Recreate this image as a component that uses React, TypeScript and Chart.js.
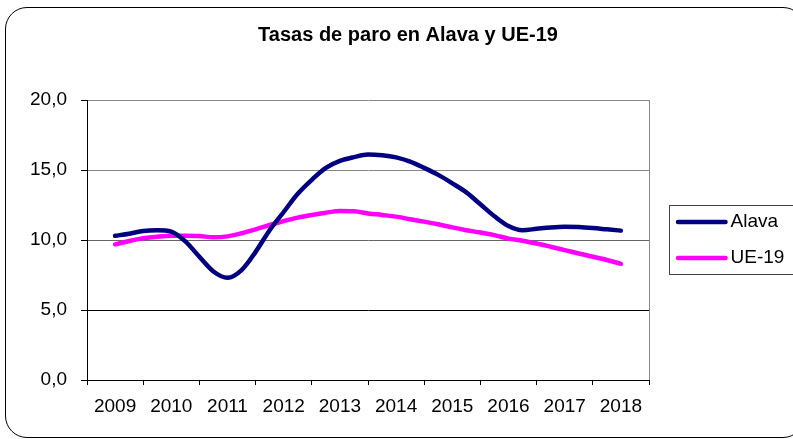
import React, { useEffect, useRef } from "react";
import { Chart, registerables } from "chart.js";

Chart.register(...registerables);

// ---- data -------------------------------------------------------------
const years = ["2009", "2010", "2011", "2012", "2013", "2014", "2015", "2016", "2017", "2018"];

// quarterly observations, from mid-2009 to mid-2018
const alava = [
  10.3, 10.45, 10.65, 10.7, 10.6, 9.9, 8.8, 7.75, 7.3, 7.85,
  9.15, 10.7, 12.0, 13.3, 14.3, 15.15, 15.65, 15.92, 16.1, 16.05,
  15.9, 15.6, 15.15, 14.65, 14.05, 13.4, 12.55, 11.7, 11.0, 10.7,
  10.8, 10.9, 10.95, 10.92, 10.85, 10.76, 10.67,
];

const ue19 = [
  9.69, 9.93, 10.12, 10.24, 10.31, 10.31, 10.29, 10.19, 10.26, 10.48,
  10.76, 11.07, 11.35, 11.6, 11.79, 11.95, 12.07, 12.05, 11.9, 11.79,
  11.67, 11.48, 11.31, 11.12, 10.9, 10.7, 10.53, 10.35, 10.1, 9.95,
  9.75, 9.52, 9.28, 9.04, 8.8, 8.57, 8.3,
];

const seriesNames = ["Alava", "UE-19"];
const seriesColors = ["#000080", "#FF00FF"];
const yTicks = [0, 5, 10, 15, 20];
const titleText = "Tasas de paro en Alava y UE-19";

const FONT = "'Liberation Sans', Arial, Helvetica, sans-serif";

const quarterPoints = (vals: number[]) =>
  vals.map((y, k) => ({ x: 0.5 + k / 4, y }));

// legend with a frame, drawn to the right of the plot area
const boxedLegend = {
  id: "boxedLegend",
  afterDraw(chart: any) {
    const { ctx, chartArea } = chart;
    const cy = (chartArea.top + chartArea.bottom) / 2;
    const left = Math.round(chartArea.right + 20) + 0.5;
    const top = Math.round(cy - 35) + 0.5;
    ctx.save();
    ctx.strokeStyle = "#444";
    ctx.lineWidth = 1;
    ctx.strokeRect(left, top, 200, 69);
    ctx.font = `19px ${FONT}`;
    ctx.textBaseline = "middle";
    ctx.textAlign = "left";
    chart.data.datasets.forEach((ds: any, i: number) => {
      const y = cy - 18 + i * 36;
      ctx.strokeStyle = ds.borderColor;
      ctx.lineWidth = ds.borderWidth;
      ctx.lineCap = "round";
      ctx.beginPath();
      ctx.moveTo(left + 8.5, y);
      ctx.lineTo(left + 56, y);
      ctx.stroke();
      ctx.fillStyle = "#000";
      ctx.fillText(ds.label, left + 61, y);
    });
    ctx.restore();
  },
};

export default function App() {
  const canvasRef = useRef<HTMLCanvasElement | null>(null);

  useEffect(() => {
    if (!canvasRef.current) return;
    const chart = new Chart(canvasRef.current, {
      type: "line",
      data: {
        datasets: [alava, ue19].map((vals, i) => ({
          label: seriesNames[i],
          data: quarterPoints(vals),
          borderColor: seriesColors[i],
          backgroundColor: seriesColors[i],
          borderWidth: 4.5,
          pointRadius: 0,
          pointHoverRadius: 0,
          fill: false,
          cubicInterpolationMode: "monotone" as const,
          borderCapStyle: "round" as const,
          borderJoinStyle: "round" as const,
        })),
      },
      options: {
        animation: false,
        responsive: false,
        events: [],
        layout: { padding: { left: 23, right: 0, top: 0, bottom: 0 } },
        plugins: {
          legend: { display: false },
          tooltip: { enabled: false },
          title: {
            display: true,
            text: titleText,
            color: "#000",
            font: { family: FONT, size: 20, weight: "bold" },
            padding: { top: 23, bottom: 53 },
          },
        },
        scales: {
          x: {
            type: "linear",
            position: "bottom",
            min: 0,
            max: years.length,
            afterBuildTicks: (s: any) => {
              s.ticks = years.map((_, i) => ({ value: i })).concat([{ value: years.length }]);
            },
            afterFit: (s: any) => {
              s.height = 59;
            },
            ticks: {
              autoSkip: false,
              maxRotation: 0,
              minRotation: 0,
              color: "#000",
              font: { family: FONT, size: 19 },
              padding: 10,
              labelOffset: 28.1,
              callback: (v: any) => (years[v as number] !== undefined ? years[v as number] : ""),
            },
            grid: {
              drawOnChartArea: true,
              color: (c: any) => (c.tick && c.tick.value === years.length ? "#888" : "rgba(0,0,0,0)"),
              tickColor: "#000",
              tickLength: 5,
              lineWidth: 1,
            },
            border: { display: true, color: "#000", width: 1 },
          },
          y: {
            type: "linear",
            position: "left",
            min: 0,
            max: 20,
            afterBuildTicks: (s: any) => {
              s.ticks = yTicks.map((v) => ({ value: v }));
            },
            afterFit: (s: any) => {
              s.width = 64;
            },
            ticks: {
              color: "#000",
              font: { family: FONT, size: 19 },
              padding: 14,
              callback: (v: any) => Number(v).toFixed(1).replace(".", ","),
            },
            grid: {
              color: (c: any) => {
                const v = c.tick ? c.tick.value : 0;
                if (v === 0 || v === 5) return "#000";
                if (v === 10) return "#666";
                return "#888";
              },
              tickColor: "#000",
              tickLength: 6,
              lineWidth: 1,
            },
            border: { display: true, color: "#000", width: 1 },
          },
          legendSpace: {
            type: "linear",
            position: "right",
            display: true,
            ticks: { display: false },
            grid: { display: false, drawTicks: false },
            border: { display: false },
            afterFit: (s: any) => {
              s.width = 144;
            },
          },
        },
      },
      plugins: [boxedLegend],
    });
    return () => chart.destroy();
  }, []);

  return (
    <div
      style={{
        position: "absolute",
        left: 0,
        top: 0,
        width: 793,
        height: 439,
        overflow: "hidden",
        background: "#fff",
      }}
    >
      <div
        style={{
          position: "absolute",
          left: 5,
          top: 7,
          width: 800,
          height: 431,
          boxSizing: "border-box",
          border: "1px solid #000",
          borderRadius: 22,
        }}
      />
      <canvas
        ref={canvasRef}
        width={793}
        height={439}
        style={{ position: "absolute", left: 0, top: 0, width: 793, height: 439 }}
      />
    </div>
  );
}
